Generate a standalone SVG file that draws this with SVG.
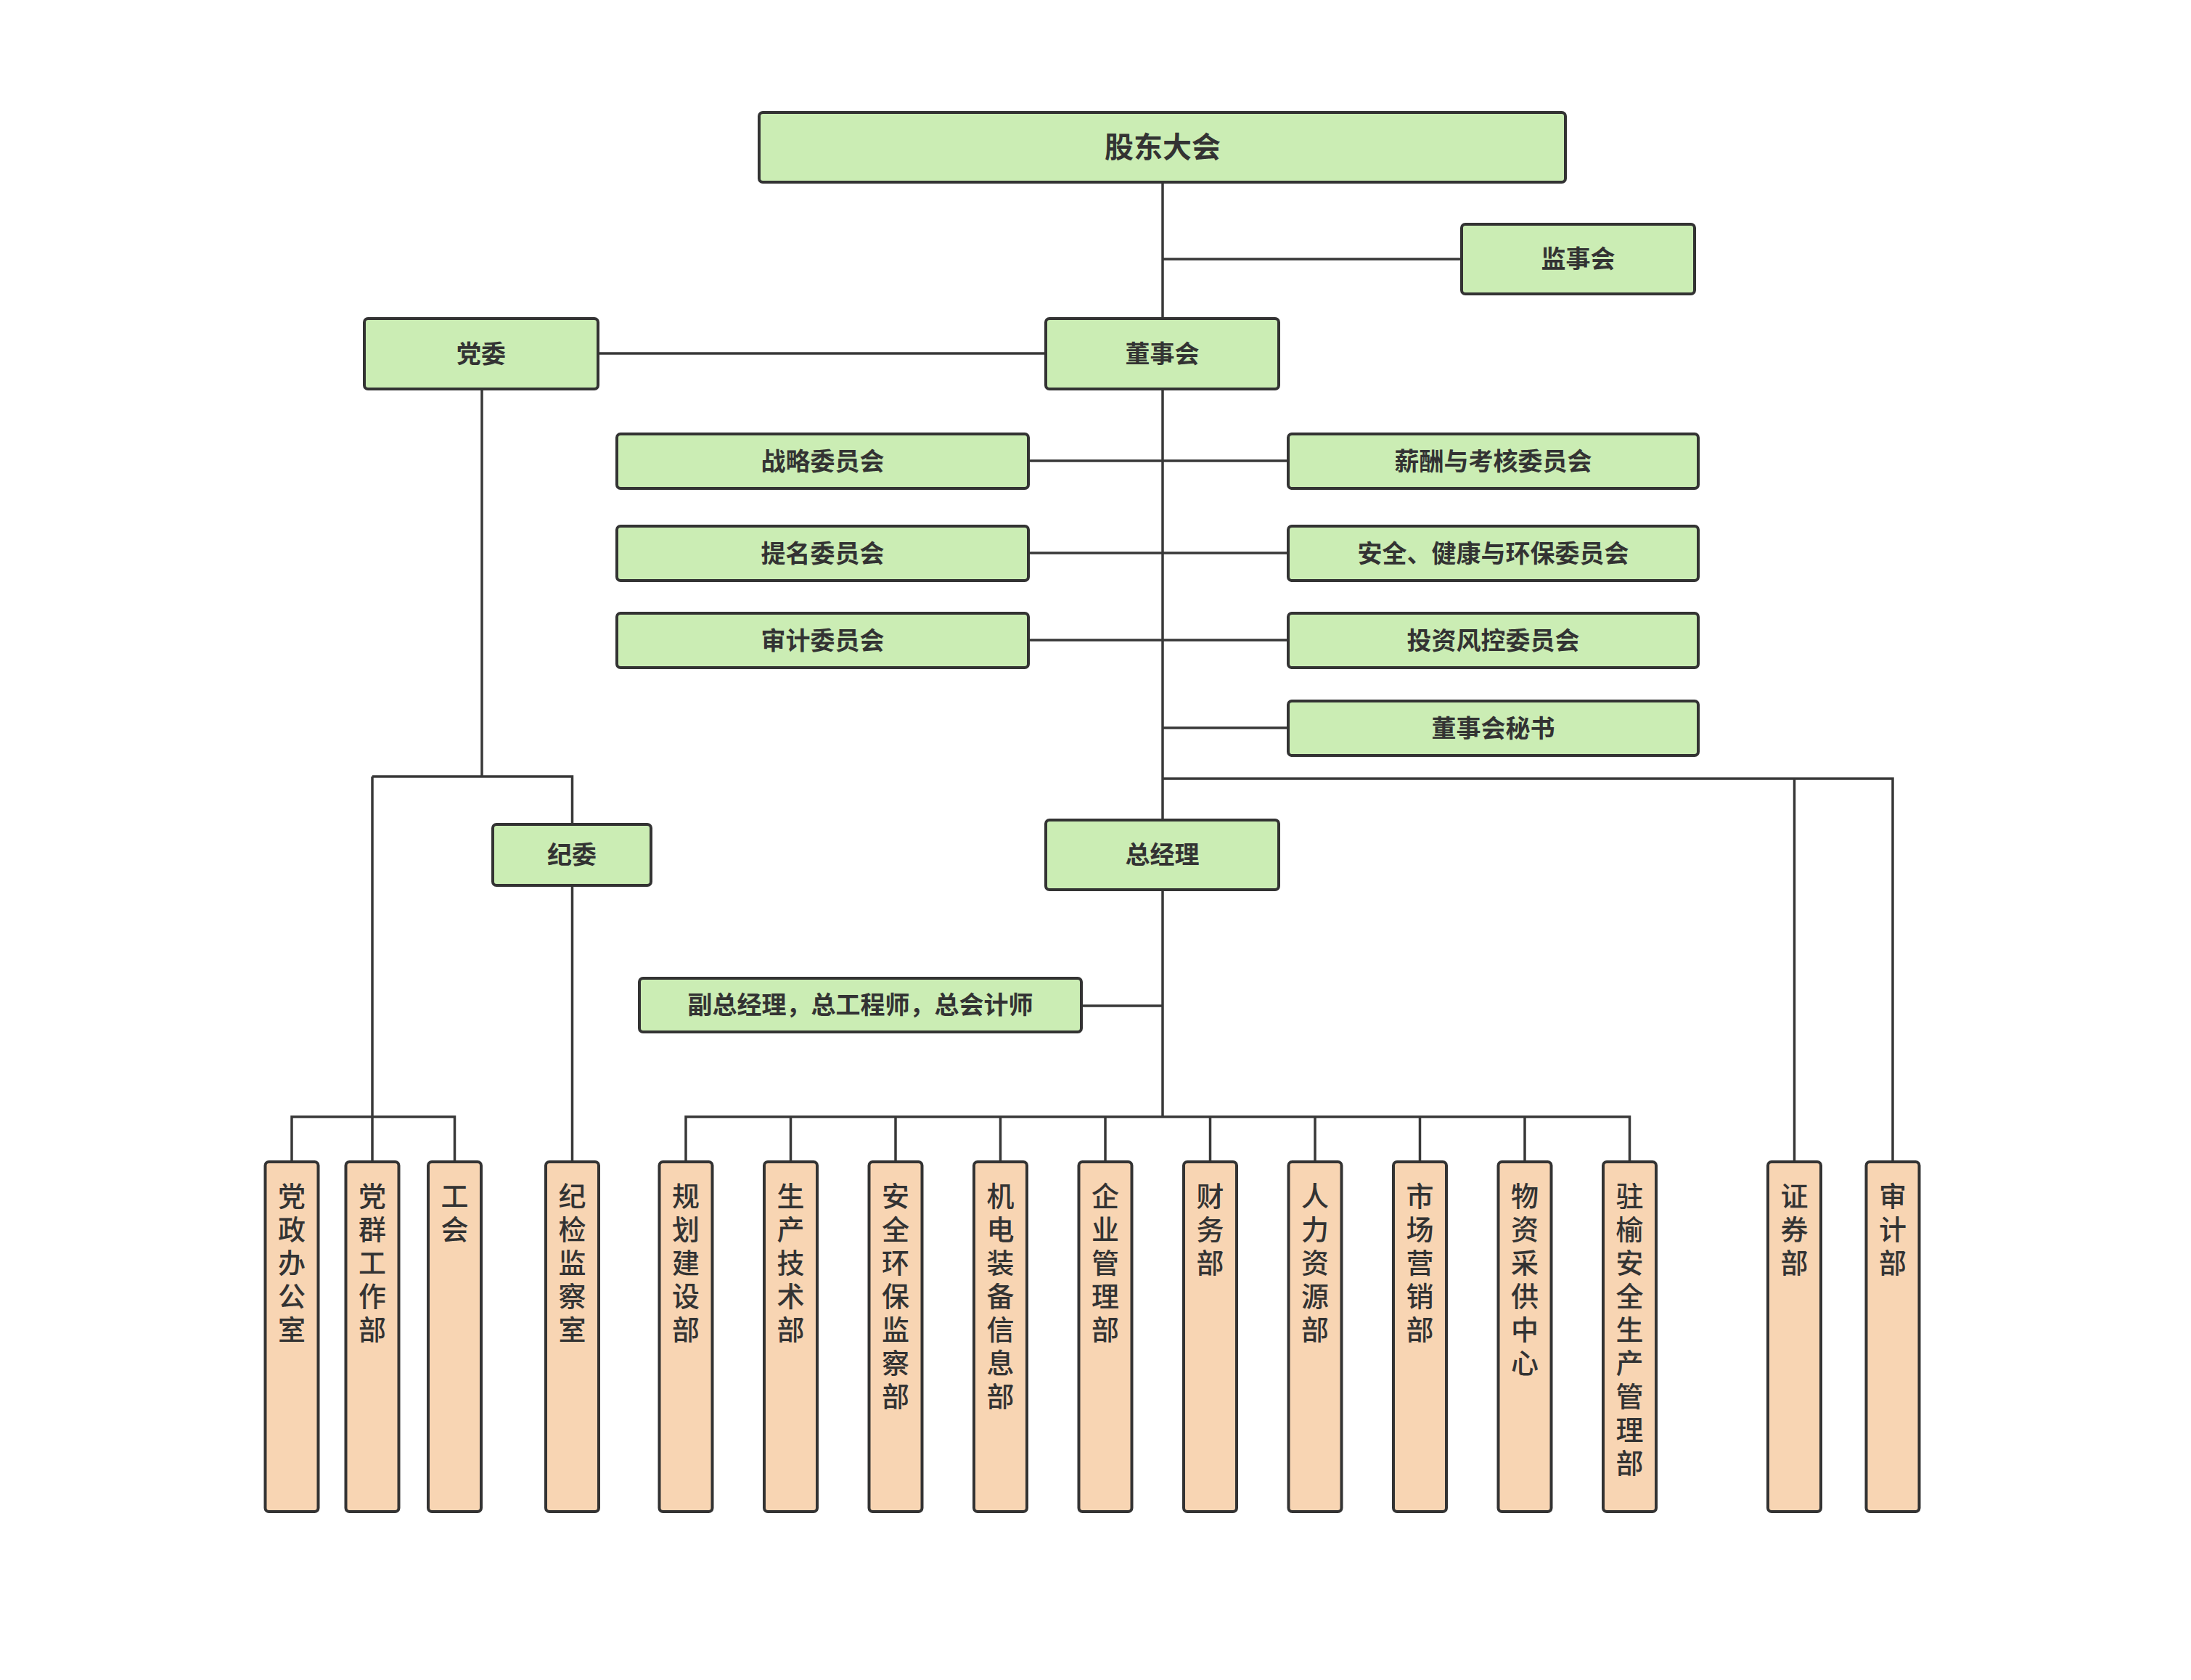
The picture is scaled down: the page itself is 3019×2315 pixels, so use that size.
<svg xmlns="http://www.w3.org/2000/svg" width="3019" height="2315" viewBox="0 0 3019 2315">
<style>
.g rect{fill:#cbedb4;stroke:#333;stroke-width:4}
.o rect{fill:#f8d5b3;stroke:#333;stroke-width:4}
text{font-family:"Liberation Sans","Noto Sans CJK SC",sans-serif;fill:#333;text-anchor:middle}
.g text{font-size:34px;font-weight:bold}
.o text{font-size:38px;font-weight:500}
#conn path{fill:none;stroke:#383838;stroke-width:3.5}
</style>
<rect width="3019" height="2315" fill="#fff"/>
<g id="conn">
<path d="M1602 251V1130"/>
<path d="M1602 357H2014"/>
<path d="M824 487H1441"/>
<path d="M1417 635H1775M1417 762H1775M1417 882H1775"/>
<path d="M1602 1003H1775"/>
<path d="M1602 1073H2608V1601M2472.5 1073V1601"/>
<path d="M664 537V1070M513 1070H788.5V1136M513 1070V1601M402 1601V1539H626.5V1601"/>
<path d="M788.5 1220V1601"/>
<path d="M1602 1226V1539M1490 1386H1602"/>
<path d="M945 1601V1539H2245.5V1601M1089.5 1539V1601M1234 1539V1601M1378.5 1539V1601M1523 1539V1601M1667.5 1539V1601M1812 1539V1601M1956.5 1539V1601M2101 1539V1601"/>
</g>
<g id="gudong" class="g"><rect x="1046" y="155" width="1111" height="96" rx="5"/><text x="1602" y="217" style="font-size:40px">股东大会</text></g>
<g id="jianshi" class="g"><rect x="2014" y="309" width="321" height="96" rx="5"/><text x="2174.5" y="369">监事会</text></g>
<g id="dangwei" class="g"><rect x="502" y="439" width="322" height="97" rx="5"/><text x="663" y="500">党委</text></g>
<g id="dongshi" class="g"><rect x="1441" y="439" width="321" height="97" rx="5"/><text x="1601.5" y="500">董事会</text></g>
<g id="zhanlue" class="g"><rect x="850" y="598" width="567" height="75" rx="5"/><text x="1133.5" y="648">战略委员会</text></g>
<g id="xinchou" class="g"><rect x="1775" y="598" width="565" height="75" rx="5"/><text x="2057.5" y="648">薪酬与考核委员会</text></g>
<g id="timing" class="g"><rect x="850" y="725" width="567" height="75" rx="5"/><text x="1133.5" y="775">提名委员会</text></g>
<g id="anquan" class="g"><rect x="1775" y="725" width="565" height="75" rx="5"/><text x="2057.5" y="775">安全、健康与环保委员会</text></g>
<g id="shenji" class="g"><rect x="850" y="845" width="567" height="75" rx="5"/><text x="1133.5" y="895">审计委员会</text></g>
<g id="touzi" class="g"><rect x="1775" y="845" width="565" height="75" rx="5"/><text x="2057.5" y="895">投资风控委员会</text></g>
<g id="mishu" class="g"><rect x="1775" y="966" width="565" height="75" rx="5"/><text x="2057.5" y="1016">董事会秘书</text></g>
<g id="jiwei" class="g"><rect x="679" y="1136" width="218" height="84" rx="5"/><text x="788" y="1190">纪委</text></g>
<g id="zongjingli" class="g"><rect x="1441" y="1130" width="321" height="96" rx="5"/><text x="1601.5" y="1190">总经理</text></g>
<g id="fuzong" class="g"><rect x="881" y="1348" width="609" height="74" rx="5"/><text x="1185.5" y="1397">副总经理，总工程师，总会计师</text></g>

<g id="d1" class="o"><rect x="365.5" y="1601" width="73" height="482" rx="5"/><text y="1662"><tspan x="402">党</tspan><tspan x="402" dy="46">政</tspan><tspan x="402" dy="46">办</tspan><tspan x="402" dy="46">公</tspan><tspan x="402" dy="46">室</tspan></text></g>
<g id="d2" class="o"><rect x="476.5" y="1601" width="73" height="482" rx="5"/><text y="1662"><tspan x="513">党</tspan><tspan x="513" dy="46">群</tspan><tspan x="513" dy="46">工</tspan><tspan x="513" dy="46">作</tspan><tspan x="513" dy="46">部</tspan></text></g>
<g id="d3" class="o"><rect x="590" y="1601" width="73" height="482" rx="5"/><text y="1662"><tspan x="626.5">工</tspan><tspan x="626.5" dy="46">会</tspan></text></g>
<g id="d4" class="o"><rect x="752" y="1601" width="73" height="482" rx="5"/><text y="1662"><tspan x="788.5">纪</tspan><tspan x="788.5" dy="46">检</tspan><tspan x="788.5" dy="46">监</tspan><tspan x="788.5" dy="46">察</tspan><tspan x="788.5" dy="46">室</tspan></text></g>
<g id="d5" class="o"><rect x="908.5" y="1601" width="73" height="482" rx="5"/><text y="1662"><tspan x="945">规</tspan><tspan x="945" dy="46">划</tspan><tspan x="945" dy="46">建</tspan><tspan x="945" dy="46">设</tspan><tspan x="945" dy="46">部</tspan></text></g>
<g id="d6" class="o"><rect x="1053" y="1601" width="73" height="482" rx="5"/><text y="1662"><tspan x="1089.5">生</tspan><tspan x="1089.5" dy="46">产</tspan><tspan x="1089.5" dy="46">技</tspan><tspan x="1089.5" dy="46">术</tspan><tspan x="1089.5" dy="46">部</tspan></text></g>
<g id="d7" class="o"><rect x="1197.5" y="1601" width="73" height="482" rx="5"/><text y="1662"><tspan x="1234">安</tspan><tspan x="1234" dy="46">全</tspan><tspan x="1234" dy="46">环</tspan><tspan x="1234" dy="46">保</tspan><tspan x="1234" dy="46">监</tspan><tspan x="1234" dy="46">察</tspan><tspan x="1234" dy="46">部</tspan></text></g>
<g id="d8" class="o"><rect x="1342" y="1601" width="73" height="482" rx="5"/><text y="1662"><tspan x="1378.5">机</tspan><tspan x="1378.5" dy="46">电</tspan><tspan x="1378.5" dy="46">装</tspan><tspan x="1378.5" dy="46">备</tspan><tspan x="1378.5" dy="46">信</tspan><tspan x="1378.5" dy="46">息</tspan><tspan x="1378.5" dy="46">部</tspan></text></g>
<g id="d9" class="o"><rect x="1486.5" y="1601" width="73" height="482" rx="5"/><text y="1662"><tspan x="1523">企</tspan><tspan x="1523" dy="46">业</tspan><tspan x="1523" dy="46">管</tspan><tspan x="1523" dy="46">理</tspan><tspan x="1523" dy="46">部</tspan></text></g>
<g id="d10" class="o"><rect x="1631" y="1601" width="73" height="482" rx="5"/><text y="1662"><tspan x="1667.5">财</tspan><tspan x="1667.5" dy="46">务</tspan><tspan x="1667.5" dy="46">部</tspan></text></g>
<g id="d11" class="o"><rect x="1775.5" y="1601" width="73" height="482" rx="5"/><text y="1662"><tspan x="1812">人</tspan><tspan x="1812" dy="46">力</tspan><tspan x="1812" dy="46">资</tspan><tspan x="1812" dy="46">源</tspan><tspan x="1812" dy="46">部</tspan></text></g>
<g id="d12" class="o"><rect x="1920" y="1601" width="73" height="482" rx="5"/><text y="1662"><tspan x="1956.5">市</tspan><tspan x="1956.5" dy="46">场</tspan><tspan x="1956.5" dy="46">营</tspan><tspan x="1956.5" dy="46">销</tspan><tspan x="1956.5" dy="46">部</tspan></text></g>
<g id="d13" class="o"><rect x="2064.5" y="1601" width="73" height="482" rx="5"/><text y="1662"><tspan x="2101">物</tspan><tspan x="2101" dy="46">资</tspan><tspan x="2101" dy="46">采</tspan><tspan x="2101" dy="46">供</tspan><tspan x="2101" dy="46">中</tspan><tspan x="2101" dy="46">心</tspan></text></g>
<g id="d14" class="o"><rect x="2209" y="1601" width="73" height="482" rx="5"/><text y="1662"><tspan x="2245.5">驻</tspan><tspan x="2245.5" dy="46">榆</tspan><tspan x="2245.5" dy="46">安</tspan><tspan x="2245.5" dy="46">全</tspan><tspan x="2245.5" dy="46">生</tspan><tspan x="2245.5" dy="46">产</tspan><tspan x="2245.5" dy="46">管</tspan><tspan x="2245.5" dy="46">理</tspan><tspan x="2245.5" dy="46">部</tspan></text></g>
<g id="d15" class="o"><rect x="2436" y="1601" width="73" height="482" rx="5"/><text y="1662"><tspan x="2472.5">证</tspan><tspan x="2472.5" dy="46">券</tspan><tspan x="2472.5" dy="46">部</tspan></text></g>
<g id="d16" class="o"><rect x="2571.5" y="1601" width="73" height="482" rx="5"/><text y="1662"><tspan x="2608">审</tspan><tspan x="2608" dy="46">计</tspan><tspan x="2608" dy="46">部</tspan></text></g>
</svg>
